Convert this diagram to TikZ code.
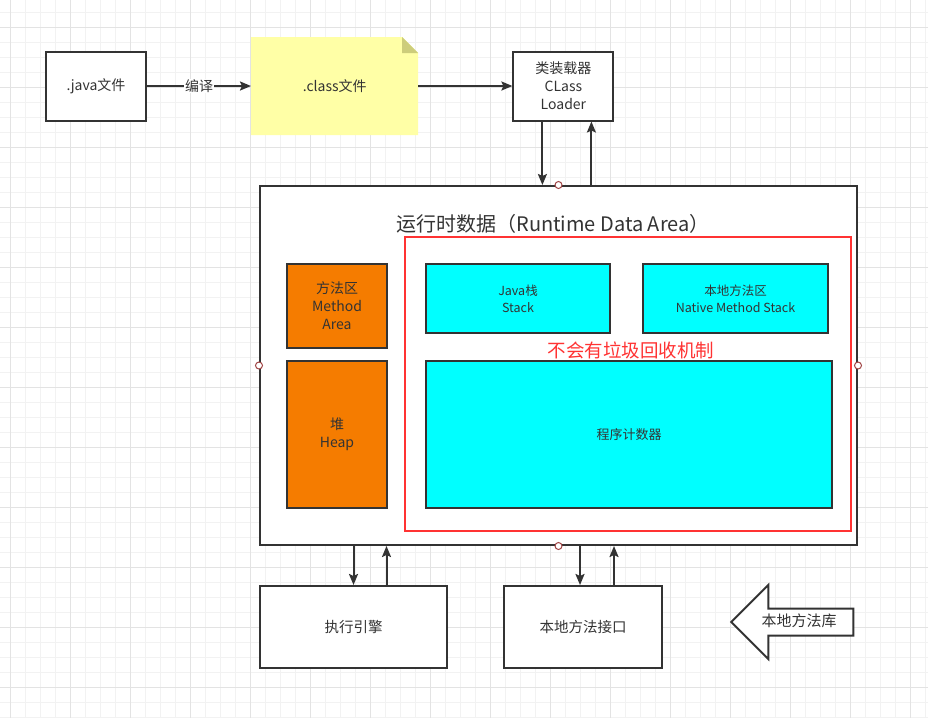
\documentclass[tikz,border=0pt]{standalone}
\usepackage{fontspec}
\setmainfont{Noto Sans CJK SC}
\usetikzlibrary{arrows.meta,positioning,shapes.arrows}

\definecolor{linec}{HTML}{333333}
\definecolor{gridmin}{HTML}{F2F2F2}
\definecolor{gridmaj}{HTML}{E3E3E3}
\definecolor{notey}{HTML}{FFFFA6}
\definecolor{notefold}{HTML}{CDCD7B}
\definecolor{heapor}{HTML}{F57C00}
\definecolor{stackcy}{HTML}{00FFFF}
\definecolor{gcred}{HTML}{FF3333}
\definecolor{handlec}{HTML}{A04545}

\tikzset{
  box/.style={draw=linec, line width=2pt, fill=white, text=linec, align=center, inner sep=0pt},
  areabox/.style={box, fill=heapor, minimum width=100pt},
  stackbox/.style={box, fill=stackcy, font=\fontsize{12.5}{17}\selectfont},
  notebox/.style={text=linec, minimum width=167pt, minimum height=98pt,
    path picture={
      \fill[notey] (path picture bounding box.south west) -- (path picture bounding box.north west)
        -- ([xshift=-16pt]path picture bounding box.north east)
        -- ([yshift=-16pt]path picture bounding box.north east)
        -- (path picture bounding box.south east) -- cycle;
      \fill[notefold] ([xshift=-16pt]path picture bounding box.north east)
        -- ([xshift=-16pt,yshift=-16pt]path picture bounding box.north east)
        -- ([yshift=-16pt]path picture bounding box.north east) -- cycle;}},
  redframe/.style={draw=gcred, line width=2.5pt},
  arr/.style={draw=linec, line width=2pt, -{Stealth[length=11pt,width=9pt,inset=2pt]}},
  handle/.style={draw=handlec, fill=white, line width=1pt},
  libarrow/.style={single arrow, shape border rotate=180, draw=linec, line width=2pt, fill=white,
    text=linec, minimum height=122pt, single arrow head extend=23.5pt,
    text height=11pt, text depth=3pt, inner xsep=2pt, inner ysep=5.5pt,
    font=\fontsize{15}{18}\selectfont}
}

\begin{document}
\begin{tikzpicture}[x=1pt,y=-1pt,node distance=104pt,font=\fontsize{14}{18}\selectfont]
  \useasboundingbox (0,0) rectangle (928,718);
  \fill[white] (0,0) rectangle (928,718);
  % grid
  \foreach \gx in {10,25,...,925} \draw[gridmin,line width=1pt] (\gx,0) -- (\gx,718);
  \foreach \gy in {12,27,...,717} \draw[gridmin,line width=1pt] (0,\gy) -- (928,\gy);
  \foreach \gx in {10,70,...,910} \draw[gridmaj,line width=1pt] (\gx,0) -- (\gx,718);
  \foreach \gy in {27,87,...,687} \draw[gridmaj,line width=1pt] (0,\gy) -- (928,\gy);

  % top row
  \node[box, minimum width=100pt, minimum height=69pt] (java) at (96,86) {.java文件};
  \node[notebox] (cls) [right=of java] {.class文件};
  \node[box, minimum width=100pt, minimum height=69pt] (loader) [right=94pt of cls]
    {类装载器\\CLass\\Loader};
  \draw[arr] (java) -- node[fill=white, inner sep=1pt, text=linec] {编译} (cls);
  \draw[arr] (cls) -- (loader);

  % runtime data area
  \node[box, minimum width=597pt, minimum height=359pt] (runtime) at (558.5,365.5) {};
  \node[text=linec, font=\fontsize{20}{24}\selectfont] (rtitle) at (553,224)
    {运行时数据（Runtime Data Area）};
  \node[redframe, minimum width=446pt, minimum height=294pt] (nogc) at (628,384) {};
  \node[areabox, minimum height=84pt] (method) at (337,306) {方法区\\Method\\Area};
  \node[areabox, minimum height=147pt] (heap) at (337,434.5) {堆\\Heap};
  \node[stackbox, minimum width=184pt, minimum height=69pt] (jstack) at (518,298.5) {Java栈\\Stack};
  \node[stackbox, minimum width=185pt, minimum height=69pt] (nstack) at (735.5,298.5)
    {本地方法区\\Native Method Stack};
  \node[stackbox, minimum width=406pt, minimum height=147pt, font=\fontsize{13}{17}\selectfont] (pc)
    at (629,434.5) {程序计数器};
  \node[text=gcred, font=\fontsize{18.5}{22}\selectfont] (gcnote) at (631,350) {不会有垃圾回收机制};

  % bottom row
  \node[box, minimum width=187pt, minimum height=82pt, font=\fontsize{14.5}{18}\selectfont] (engine)
    at (353.5,627) {执行引擎};
  \node[box, minimum width=158pt, minimum height=82pt, font=\fontsize{14.5}{18}\selectfont] (jni)
    at (583,627) {本地方法接口};
  \node[libarrow] (lib) at (799,622) {本地方法库};

  % loader <-> runtime
  \coordinate (ldn) at ([xshift=-21pt]loader.south);
  \coordinate (lup) at ([xshift=28pt]loader.south);
  \draw[arr] (ldn) -- (ldn |- runtime.north);
  \draw[arr] (lup |- runtime.north) -- (lup);

  % runtime <-> engine, jni
  \coordinate (edn) at (engine.north);
  \coordinate (eup) at ([xshift=33pt]engine.north);
  \draw[arr] (edn |- runtime.south) -- (edn);
  \draw[arr] (eup) -- (eup |- runtime.south);
  \coordinate (jdn) at ([xshift=-3pt]jni.north);
  \coordinate (jup) at ([xshift=31pt]jni.north);
  \draw[arr] (jdn |- runtime.south) -- (jdn);
  \draw[arr] (jup) -- (jup |- runtime.south);

  \foreach \a in {north,south,east,west}
    \draw[handle] (runtime.\a) circle (3.5pt);
\end{tikzpicture}
\end{document}
